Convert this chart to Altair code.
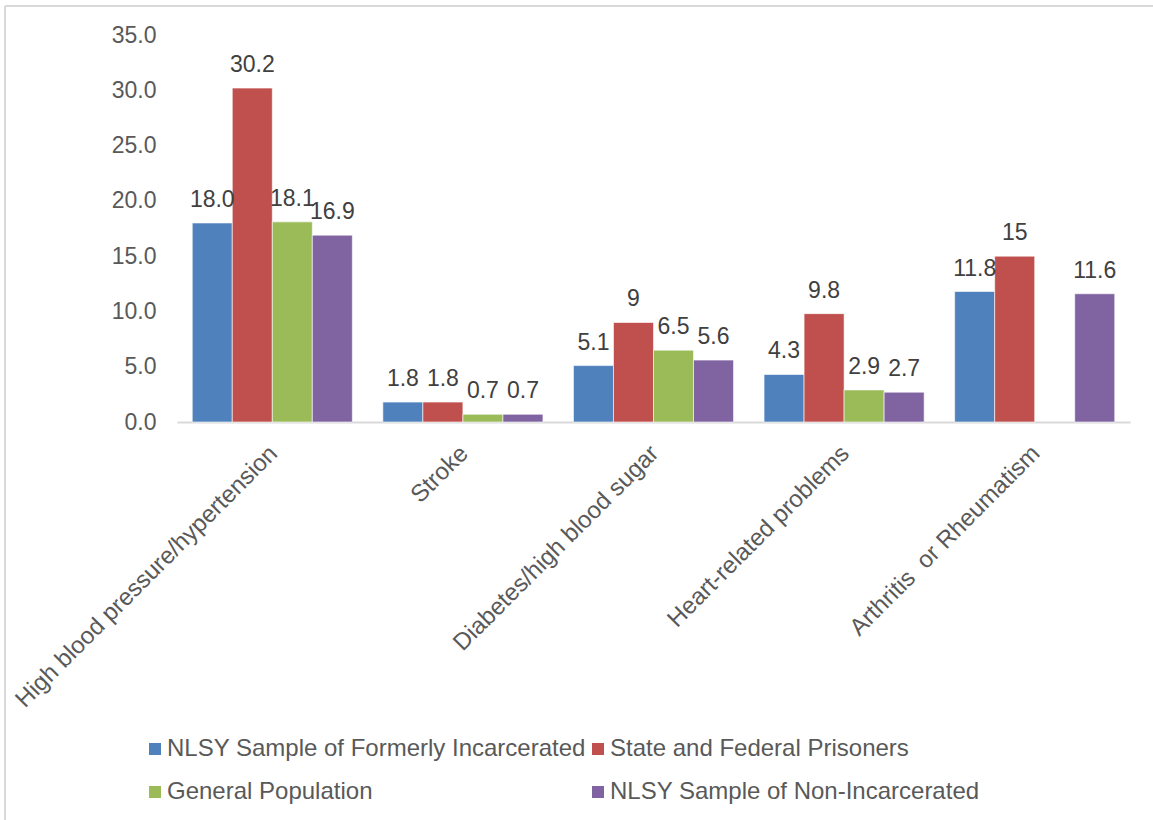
import altair as alt
import pandas as pd

# Chronic conditions (percent) by population group
categories = [
    "High blood pressure/hypertension",
    "Stroke",
    "Diabetes/high blood sugar",
    "Heart-related problems",
    "Arthritis\u00a0 or Rheumatism",
]
series_names = [
    "NLSY Sample of Formerly Incarcerated",
    "State and Federal Prisoners",
    "General Population",
    "NLSY Sample of Non-Incarcerated",
]
formerly_incarcerated = [18.0, 1.8, 5.1, 4.3, 11.8]
state_federal_prisoners = [30.2, 1.8, 9, 9.8, 15]
general_population = [18.1, 0.7, 6.5, 2.9, None]
non_incarcerated = [16.9, 0.7, 5.6, 2.7, 11.6]
series_colors = ["#4F81BD", "#C0504D", "#9BBB59", "#8064A2"]
y_ticks = [0, 5, 10, 15, 20, 25, 30, 35]

rows = []
for name, values in zip(
    series_names,
    [formerly_incarcerated, state_federal_prisoners, general_population, non_incarcerated],
):
    for cat, v in zip(categories, values):
        if v is None:
            continue
        label = str(v) if isinstance(v, int) else f"{v:.1f}"
        rows.append({"condition": cat, "group": name, "value": v, "label": label})
df = pd.DataFrame(rows)

FONT = "Liberation Sans"
FS = 24

x_enc = alt.X(
    "condition:N",
    sort=categories,
    scale=alt.Scale(paddingInner=0.16, paddingOuter=0.08),
    axis=alt.Axis(
        title=None,
        labelAngle=-45,
        labelFontSize=FS,
        labelColor="#595959",
        labelFont=FONT,
        labelPadding=19,
        labelOffset=-7,
        labelLimit=800,
        ticks=False,
        domainColor="#D9D9D9",
        domainWidth=2,
    ),
)
y_enc = alt.Y(
    "value:Q",
    scale=alt.Scale(domain=[0, 35], nice=False),
    axis=alt.Axis(
        title=None,
        values=y_ticks,
        format=".1f",
        labelFontSize=23,
        labelColor="#595959",
        labelFont=FONT,
        labelPadding=21,
        domain=False,
        ticks=False,
        grid=False,
    ),
)
offset_enc = alt.XOffset("group:N", sort=series_names, scale=alt.Scale(domain=series_names))

bars = alt.Chart(df).mark_bar(stroke="white", strokeWidth=0.6).encode(
    x=x_enc,
    y=y_enc,
    xOffset=offset_enc,
    color=alt.Color(
        "group:N",
        sort=series_names,
        scale=alt.Scale(domain=series_names, range=series_colors),
        legend=alt.Legend(
            title=None,
            orient="none",
            legendX=-34,
            legendY=702,
            direction="horizontal",
            columns=2,
            symbolType="square",
            symbolSize=144,
            symbolStrokeWidth=0,
            labelFontSize=FS,
            labelFont=FONT,
            labelColor="#595959",
            labelLimit=800,
            labelOffset=0,
            columnPadding=0,
            rowPadding=19,
        ),
    ),
)

labels = alt.Chart(df).mark_text(
    baseline="bottom", dy=-11, fontSize=23, font=FONT, color="#404040"
).encode(
    x=x_enc,
    y=y_enc,
    xOffset=offset_enc,
    text="label:N",
)

# Thin frame around the chart
frame_top = alt.Chart(df).mark_rule(color="#D9D9D9", strokeWidth=2).encode(
    x=alt.value(-172), x2=alt.value(1000), y=alt.value(-29)
)
frame_left = alt.Chart(df).mark_rule(color="#D9D9D9", strokeWidth=2).encode(
    x=alt.value(-172), y=alt.value(-29), y2=alt.value(800)
)

chart = (
    alt.layer(frame_top, frame_left, bars, labels)
    .properties(
        width=953,
        height=387,
        background="white",
        autosize=alt.AutoSizeParams(type="none"),
        padding={"left": 177, "top": 35, "right": 23, "bottom": 398},
    )
    .configure_view(stroke="transparent", strokeWidth=0)
)

chart.save("out.html", embed_options={"renderer": "svg", "actions": False})
